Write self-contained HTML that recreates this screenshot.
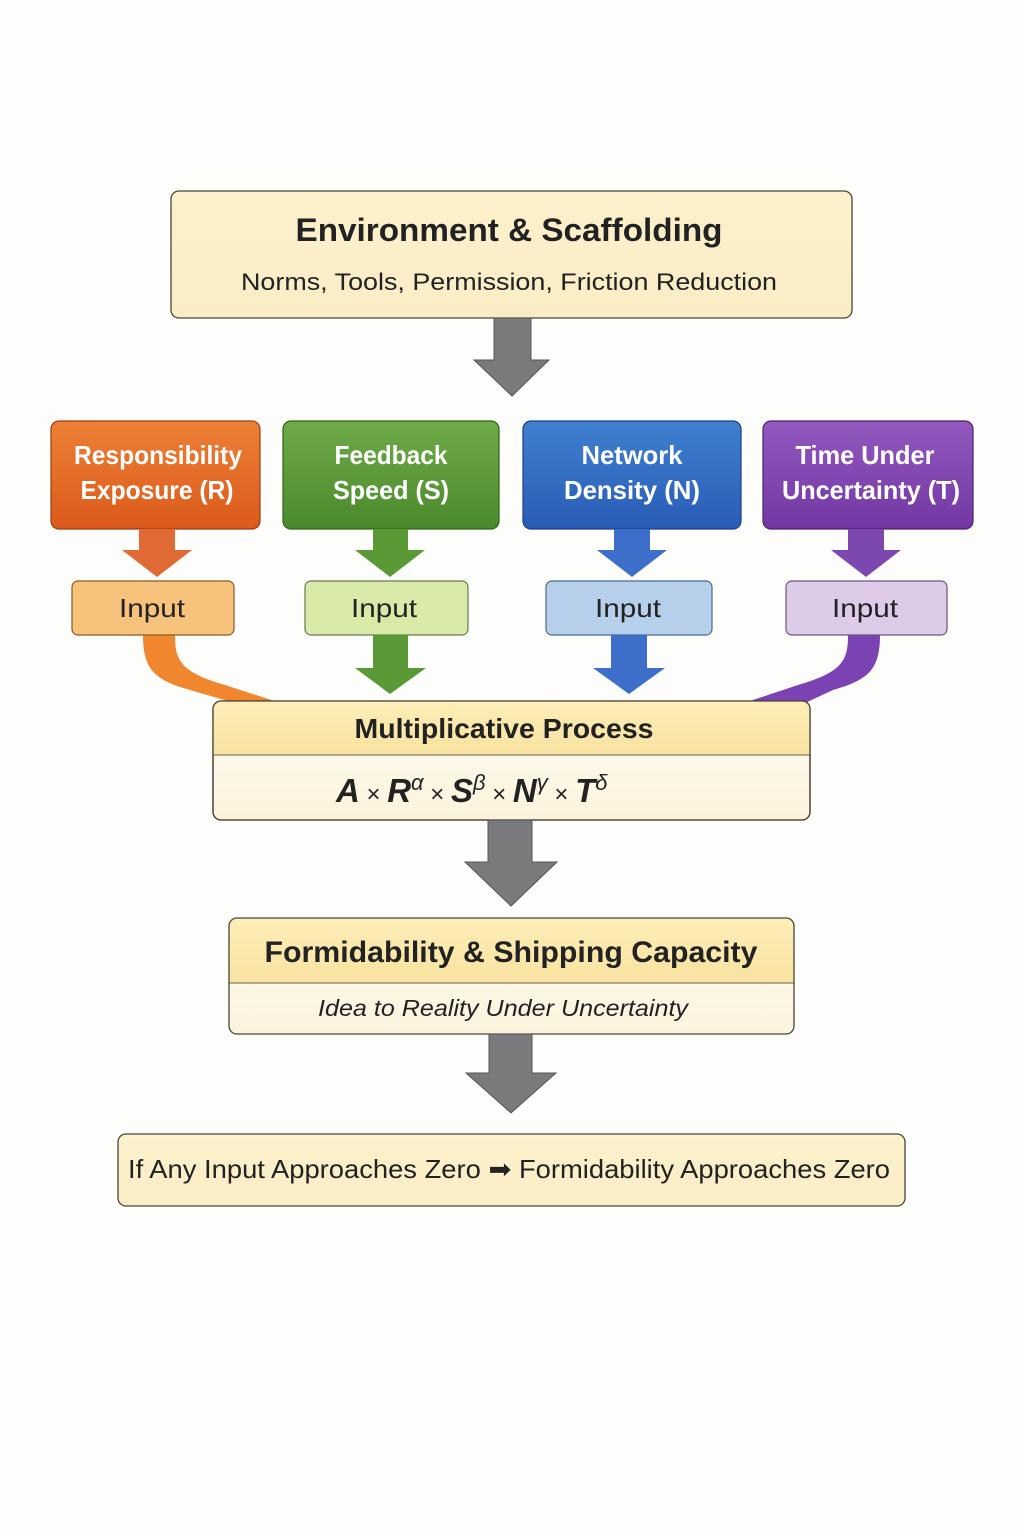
<!DOCTYPE html>
<html><head><meta charset="utf-8"><style>
html,body{margin:0;padding:0;background:#fdfdfc;}
svg{display:block;}
text{font-family:"Liberation Sans",sans-serif;}
</style></head><body>
<svg width="1024" height="1536" viewBox="0 0 1024 1536" xmlns="http://www.w3.org/2000/svg">
<defs>
<linearGradient id="cream" x1="0" y1="0" x2="0" y2="1"><stop offset="0" stop-color="#fcf1cc"/><stop offset="1" stop-color="#faedc6"/></linearGradient>
<linearGradient id="hdr" x1="0" y1="0" x2="0" y2="1"><stop offset="0" stop-color="#fdeeb8"/><stop offset="1" stop-color="#f8e2a0"/></linearGradient>
<linearGradient id="body" x1="0" y1="0" x2="0" y2="1"><stop offset="0" stop-color="#fefcf3"/><stop offset="1" stop-color="#fbf3dc"/></linearGradient>
<linearGradient id="or" x1="0" y1="0" x2="0" y2="1"><stop offset="0" stop-color="#ec8035"/><stop offset="1" stop-color="#dc5a1c"/></linearGradient>
<linearGradient id="gr" x1="0" y1="0" x2="0" y2="1"><stop offset="0" stop-color="#6faa48"/><stop offset="1" stop-color="#4a8a2c"/></linearGradient>
<linearGradient id="bl" x1="0" y1="0" x2="0" y2="1"><stop offset="0" stop-color="#3f80cf"/><stop offset="1" stop-color="#2a5cb6"/></linearGradient>
<linearGradient id="pu" x1="0" y1="0" x2="0" y2="1"><stop offset="0" stop-color="#9359bf"/><stop offset="1" stop-color="#7237a2"/></linearGradient>
</defs>

<!-- top box -->
<rect x="171" y="191" width="681" height="127" rx="8" fill="url(#cream)" stroke="#4a4438" stroke-width="1.3"/>
<text x="509" y="241" text-anchor="middle" font-size="32" font-weight="bold" fill="#222" textLength="427" lengthAdjust="spacingAndGlyphs">Environment &amp; Scaffolding</text>
<text x="509" y="290" text-anchor="middle" font-size="24" fill="#222" textLength="536" lengthAdjust="spacingAndGlyphs">Norms, Tools, Permission, Friction Reduction</text>

<!-- gray arrow 1 -->
<polygon points="494,318 531,318 531,360 549,360 512,396 474,360 494,360" fill="#7a7a7c" stroke="#555" stroke-width="1"/>

<!-- colored boxes -->
<rect x="51" y="421" width="209" height="108" rx="8" fill="url(#or)" stroke="#9a3e12" stroke-width="1.2"/>
<rect x="283" y="421" width="216" height="108" rx="8" fill="url(#gr)" stroke="#2f6416" stroke-width="1.2"/>
<rect x="523" y="421" width="218" height="108" rx="8" fill="url(#bl)" stroke="#1b3f88" stroke-width="1.2"/>
<rect x="763" y="421" width="210" height="108" rx="8" fill="url(#pu)" stroke="#4d2073" stroke-width="1.2"/>
<g font-size="26" font-weight="bold" fill="#fff" text-anchor="middle">
<text x="158" y="464" textLength="168" lengthAdjust="spacingAndGlyphs">Responsibility</text>
<text x="157" y="499" textLength="153" lengthAdjust="spacingAndGlyphs">Exposure (R)</text>
<text x="391" y="464" textLength="113" lengthAdjust="spacingAndGlyphs">Feedback</text>
<text x="391" y="499" textLength="116" lengthAdjust="spacingAndGlyphs">Speed (S)</text>
<text x="632" y="464" textLength="101" lengthAdjust="spacingAndGlyphs">Network</text>
<text x="632" y="499" textLength="136" lengthAdjust="spacingAndGlyphs">Density (N)</text>
<text x="865" y="464" textLength="139" lengthAdjust="spacingAndGlyphs">Time Under</text>
<text x="871" y="499" textLength="178" lengthAdjust="spacingAndGlyphs">Uncertainty (T)</text>
</g>

<!-- small arrows top -->
<polygon points="139,529 175,529 175,550 192,550 157,577 122,550 139,550" fill="#e06a34"/>
<polygon points="373,529 408,529 408,550 425,550 390,577 355,550 373,550" fill="#5a9a36"/>
<polygon points="614,529 650,529 650,550 667,550 632,577 597,550 614,550" fill="#3d6fca"/>
<polygon points="848,529 884,529 884,550 901,550 866,577 831,550 848,550" fill="#7d47b0"/>

<!-- curves -->
<path d="M143,635 C143,670 155,680 190,690 L245,706 L290,706 L225,685 C180,672 175,660 175,635 Z" fill="#f0862e"/>
<path d="M880,635 C880,670 868,680 833,690 L790,710 L735,706 L798,685 C843,672 848,660 848,635 Z" fill="#7a42b2"/>

<!-- input boxes -->
<rect x="72" y="581" width="162" height="54" rx="6" fill="#f7c27c" stroke="#8a5a2a" stroke-width="1.2"/>
<rect x="305" y="581" width="163" height="54" rx="6" fill="#d9eaa8" stroke="#6a7a48" stroke-width="1.2"/>
<rect x="546" y="581" width="166" height="54" rx="6" fill="#b6cfea" stroke="#4d6a8e" stroke-width="1.2"/>
<rect x="786" y="581" width="161" height="54" rx="6" fill="#ddcbe8" stroke="#6a5680" stroke-width="1.2"/>
<g font-size="26" fill="#222" text-anchor="middle">
<text x="152" y="617" textLength="66" lengthAdjust="spacingAndGlyphs">Input</text>
<text x="384" y="617" textLength="66" lengthAdjust="spacingAndGlyphs">Input</text>
<text x="628" y="617" textLength="66" lengthAdjust="spacingAndGlyphs">Input</text>
<text x="865" y="617" textLength="66" lengthAdjust="spacingAndGlyphs">Input</text>
</g>

<!-- lower arrows -->
<polygon points="373,635 408,635 408,668 426,668 390,694 355,668 373,668" fill="#5a9a36"/>
<polygon points="611,635 647,635 647,668 665,668 629,694 593,668 611,668" fill="#3d6fca"/>

<!-- multiplicative process -->
<rect x="213" y="701" width="597" height="119" rx="8" fill="url(#body)" stroke="#4a4438" stroke-width="1.3"/>
<path d="M221,701 H802 A8,8 0 0 1 810,709 V755 H213 V709 A8,8 0 0 1 221,701 Z" fill="url(#hdr)"/>
<line x1="213" y1="755" x2="810" y2="755" stroke="#6a6250" stroke-width="1"/>
<rect x="213" y="701" width="597" height="119" rx="8" fill="none" stroke="#4a4438" stroke-width="1.3"/>
<text x="504" y="738" text-anchor="middle" font-size="28" font-weight="bold" fill="#222" textLength="299" lengthAdjust="spacingAndGlyphs">Multiplicative Process</text>
<text x="336" y="802" font-size="33" font-style="italic" fill="#222" font-family="Liberation Sans, DejaVu Sans, sans-serif"><tspan font-weight="bold">A</tspan><tspan font-size="24" font-style="normal"> × </tspan><tspan font-weight="bold">R</tspan><tspan font-size="22" dy="-12">α</tspan><tspan font-size="24" font-style="normal" dy="12"> × </tspan><tspan font-weight="bold">S</tspan><tspan font-size="22" dy="-12">β</tspan><tspan font-size="24" font-style="normal" dy="12"> × </tspan><tspan font-weight="bold">N</tspan><tspan font-size="22" dy="-12">γ</tspan><tspan font-size="24" font-style="normal" dy="12"> × </tspan><tspan font-weight="bold">T</tspan><tspan font-size="22" dy="-12">δ</tspan></text>

<!-- gray arrow 2 -->
<polygon points="488,820 532,820 532,862 557,862 511,906 465,862 488,862" fill="#7a7a7c" stroke="#555" stroke-width="1"/>

<!-- formidability -->
<rect x="229" y="918" width="565" height="116" rx="8" fill="url(#body)"/>
<path d="M237,918 H786 A8,8 0 0 1 794,926 V983 H229 V926 A8,8 0 0 1 237,918 Z" fill="url(#hdr)"/>
<line x1="229" y1="983" x2="794" y2="983" stroke="#6a6250" stroke-width="1"/>
<rect x="229" y="918" width="565" height="116" rx="8" fill="none" stroke="#4a4438" stroke-width="1.3"/>
<text x="511" y="962" text-anchor="middle" font-size="30" font-weight="bold" fill="#222" textLength="493" lengthAdjust="spacingAndGlyphs">Formidability &amp; Shipping Capacity</text>
<text x="503" y="1016" text-anchor="middle" font-size="23" font-style="italic" fill="#222" textLength="370" lengthAdjust="spacingAndGlyphs">Idea to Reality Under Uncertainty</text>

<!-- gray arrow 3 -->
<polygon points="489,1034 532,1034 532,1073 556,1073 511,1113 466,1073 489,1073" fill="#7a7a7c" stroke="#555" stroke-width="1"/>

<!-- bottom box -->
<rect x="118" y="1134" width="787" height="72" rx="8" fill="url(#cream)" stroke="#4a4438" stroke-width="1.3"/>
<text x="509" y="1178" text-anchor="middle" font-size="26" fill="#222" textLength="762" lengthAdjust="spacingAndGlyphs">If Any Input Approaches Zero ➡ Formidability Approaches Zero</text>
</svg>
</body></html>
